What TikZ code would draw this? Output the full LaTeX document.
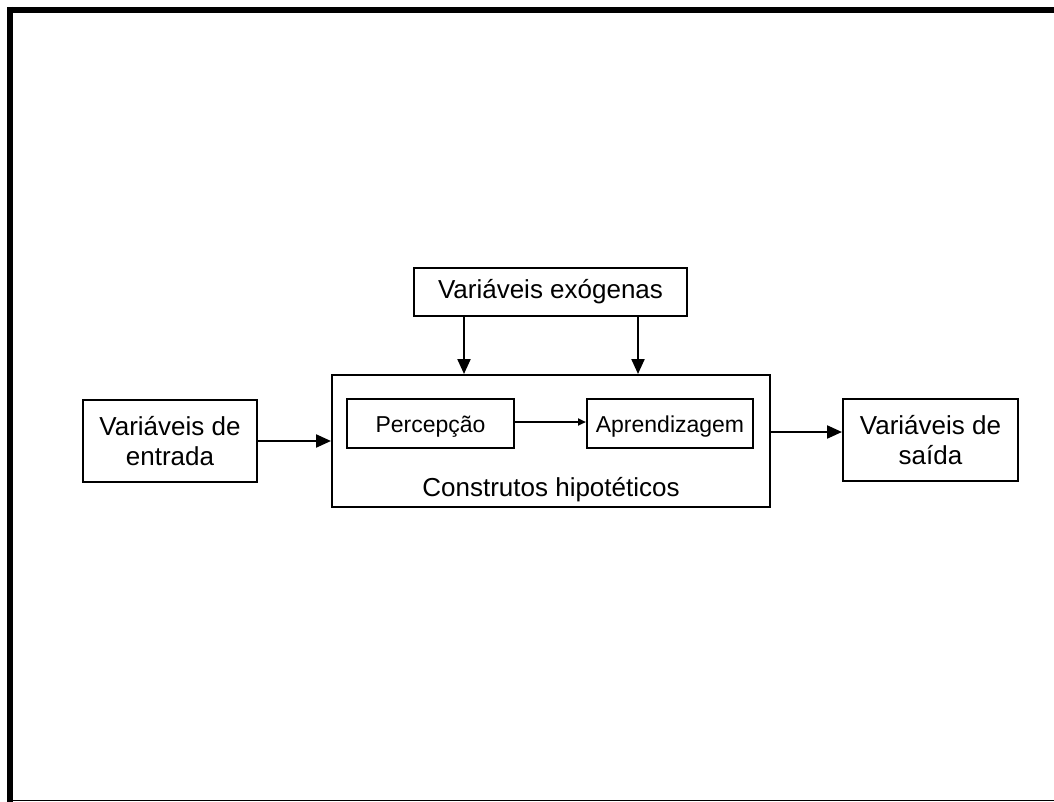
\documentclass[tikz,border=0pt]{standalone}
\usepackage{fontspec}
\setmainfont{Liberation Sans}
\usetikzlibrary{arrows.meta}
\begin{document}
\begin{tikzpicture}[x=1pt,y=-1pt,
  box/.style={draw=black,line width=2pt,rectangle,inner sep=0pt,align=center,
    font=\fontsize{26}{30}\selectfont},
  smallbox/.style={draw=black,line width=2pt,rectangle,inner sep=0pt,align=center,
    font=\fontsize{23}{27}\selectfont,text height=17pt,text depth=0pt},
  conn/.style={line width=2.2pt,-{Triangle[length=15pt,width=13pt]}},
  smallconn/.style={line width=2pt,-{Triangle[length=8pt,width=7pt]}},
  frame/.style={line width=6pt}]
\useasboundingbox (0,0) rectangle (1054,802);
% outer frame
\draw[frame] (10,7) -- (10,802);
\draw[frame] (7,10) -- (1054,10);
\draw[line width=1.5pt] (13,800.5) -- (1054,800.5);
% nodes
\node[box,minimum width=273pt,minimum height=48pt] (ex) at (550.5,292) {Variáveis exógenas};
\node[box,minimum width=438pt,minimum height=132pt] (big) at (551,441) {};
\node[box,minimum width=174pt,minimum height=82pt] (in) at (170,441) {Variáveis de\\entrada};
\node[box,minimum width=175pt,minimum height=82pt] (out) at (930.5,440) {Variáveis de\\saída};
\node[smallbox,minimum width=167pt,minimum height=49pt] (perc) at (430.5,423.5) {Percepção};
\node[smallbox,minimum width=166pt,minimum height=49pt] (apr) at (670,423.5) {Aprendizagem};
\node[font=\fontsize{26}{30}\selectfont] (lab) at (551,490) {Construtos hipotéticos};
% connectors
\draw[conn] ([xshift=-86.5pt]ex.south) -- ([xshift=-86.5pt]ex.south |- big.north);
\draw[conn] ([xshift=87.5pt]ex.south) -- ([xshift=87.5pt]ex.south |- big.north);
\draw[conn] (in.east) -- (big.west);
\draw[conn] ([yshift=9pt]big.east) -- ([yshift=9pt]big.east -| out.west);
\draw[smallconn] ([yshift=1.5pt]perc.east) -- ([yshift=1.5pt]perc.east -| apr.west);
\end{tikzpicture}
\end{document}
